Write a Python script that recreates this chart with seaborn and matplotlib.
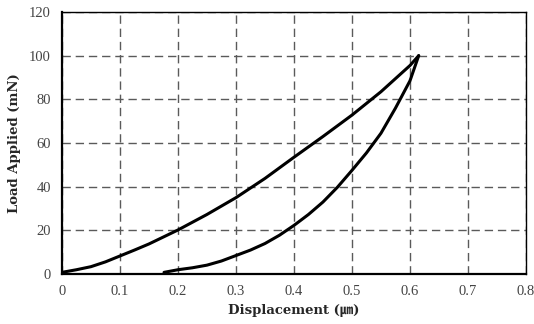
import numpy as np
import pandas as pd
import matplotlib
matplotlib.use("Agg")
import matplotlib.pyplot as plt
import seaborn as sns

load_disp = [0.0, 0.025, 0.05, 0.075, 0.1, 0.125, 0.15, 0.175, 0.2, 0.25, 0.3, 0.35, 0.4, 0.45, 0.5, 0.55, 0.6, 0.615]
load_force = [0.8, 2.0, 3.4, 5.6, 8.3, 11.0, 13.8, 17.0, 20.2, 27.3, 35.0, 43.8, 53.5, 63.0, 72.8, 83.5, 95.5, 100.0]
unload_disp = [0.615, 0.6, 0.575, 0.55, 0.525, 0.5, 0.475, 0.45, 0.425, 0.4, 0.375, 0.35, 0.325, 0.3, 0.275, 0.25, 0.225, 0.2, 0.176]
unload_force = [100.0, 88.5, 76.0, 64.5, 55.5, 47.5, 39.8, 33.0, 27.3, 22.3, 17.8, 14.0, 11.0, 8.5, 6.0, 4.1, 2.9, 2.0, 0.8]

df = pd.concat([
    pd.DataFrame({"disp": load_disp, "force": load_force, "seg": "load"}),
    pd.DataFrame({"disp": unload_disp, "force": unload_force, "seg": "unload"}),
])

sns.set_style("white")
plt.rcParams["font.family"] = ["Liberation Serif", "DejaVu Serif"]
fig = plt.figure(figsize=(5.34, 3.24), dpi=100)
ax = fig.add_axes([0.116, 0.154, 0.869, 0.809])

sns.lineplot(data=df, x="disp", y="force", units="seg", estimator=None, sort=False,
             color="black", linewidth=2.2, ax=ax, legend=False)

ax.set_xlim(0, 0.8)
ax.set_ylim(0, 120)
ax.set_xticks(np.arange(0, 0.81, 0.1))
ax.set_xticklabels(["0", "0.1", "0.2", "0.3", "0.4", "0.5", "0.6", "0.7", "0.8"])
ax.set_yticks(np.arange(0, 121, 20))
ax.grid(True, linestyle=(0, (6, 3.5)), color="#5a5a5a", linewidth=1.0)
for side in ["left", "bottom"]:
    ax.spines[side].set_color("black")
    ax.spines[side].set_linewidth(1.6)
for side in ["top", "right"]:
    ax.spines[side].set_color("black")
    ax.spines[side].set_linewidth(1.0)
ax.tick_params(axis="both", length=0, pad=8, labelsize=10.5, labelcolor="#444444")

lab_family = ["DejaVu Serif", "Noto Sans CJK KR"]
ax.set_xlabel("Displacement (㎛)", fontsize=9.5, fontweight="bold",
              family=lab_family, labelpad=4)
ax.set_ylabel("Load Applied (mN)", fontsize=9.5, fontweight="bold",
              family=lab_family, labelpad=6)

fig.savefig("out.png", dpi=100)
